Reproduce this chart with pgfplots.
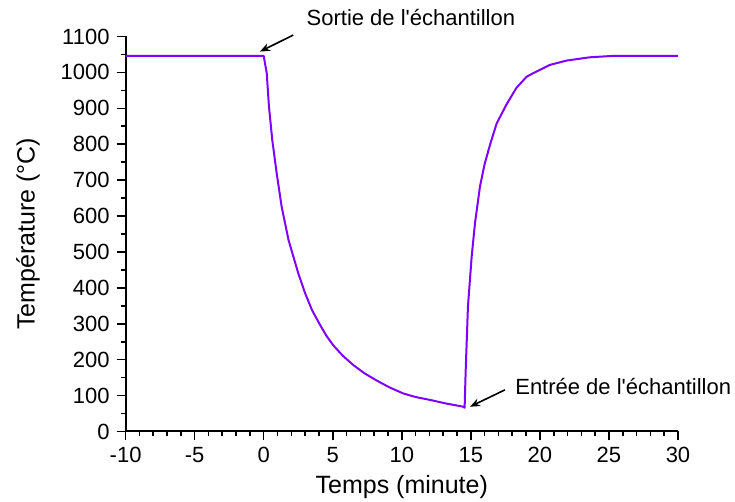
\documentclass[border=0pt]{standalone}
\usepackage{fontspec}
\setmainfont{Liberation Sans}
\usepackage{pgfplots}
\pgfplotsset{compat=1.18}
\usetikzlibrary{arrows.meta}
\definecolor{courbe}{RGB}{128,0,255}

\begin{document}
\begin{tikzpicture}
\begin{axis}[
  at={(0,0)}, anchor=south west,
  scale only axis, width=276.2pt, height=197.5pt,
  xmin=-10, xmax=30, ymin=0, ymax=1100,
  axis lines*=left,
  axis line style={line width=1pt},
  xtick={-10,-5,...,30},
  ytick={0,100,...,1100},
  minor x tick num=4, minor y tick num=1,
  tick align=outside,
  major tick length=4.5pt, minor tick length=2.5pt,
  tick style={line width=0.8pt, black},
  ticklabel style={font=\fontsize{11}{13}\selectfont},
  /pgf/number format/assume math mode=true,
  /pgf/number format/1000 sep={},
  xlabel={Temps (minute)},
  ylabel={Température (°C)},
  label style={font=\fontsize{12.5}{15}\selectfont},
  xlabel style={at={(axis description cs:0.5,-0.1405)}, anchor=center},
  ylabel style={at={(axis description cs:-0.1767,0.5)}, anchor=center},
  clip=false,
]
\addplot[color=courbe, line width=1pt, line join=round] coordinates {
  (-10,1046) (0,1046) (0.22,998) (0.38,905) (0.62,812) (0.94,719)
  (1.30,626) (1.8,533) (2.5,441) (3.0,385) (3.5,338) (4.08,297)
  (4.55,266) (5.04,240) (5.7,212) (6.49,185) (7.3,162) (8.18,142)
  (9.1,123) (10.1,106) (11.0,96) (12.04,88) (13.2,78) (14.45,69)
  (14.55,66)
  (14.62,162) (14.79,348) (15.06,487) (15.3,580) (15.66,682)
  (16.0,745) (16.4,800) (16.87,858) (17.6,912) (18.3,957) (19.04,988)
  (19.52,998) (20.73,1021) (21.94,1033) (23.6,1042) (25.3,1046)
  (30,1046)
};
\node[anchor=west, font=\fontsize{11}{13}\selectfont] at (axis cs:2.6,1152)
  {Sortie de l\textquotesingle échantillon};
\draw[-{Stealth[length=5pt,width=4pt]}, line width=0.8pt]
  (axis cs:2.14,1104) -- (axis cs:-0.27,1058);
\node[anchor=west, font=\fontsize{11}{13}\selectfont] at (axis cs:17.71,125)
  {Entrée de l\textquotesingle échantillon};
\draw[-{Stealth[length=5pt,width=4pt]}, line width=0.8pt]
  (axis cs:17.47,116) -- (axis cs:14.94,69);
\end{axis}
\pgfresetboundingbox
\path[use as bounding box] (-62.8pt,-35.25pt) rectangle (304.7pt,215.75pt);
\end{tikzpicture}
\end{document}
